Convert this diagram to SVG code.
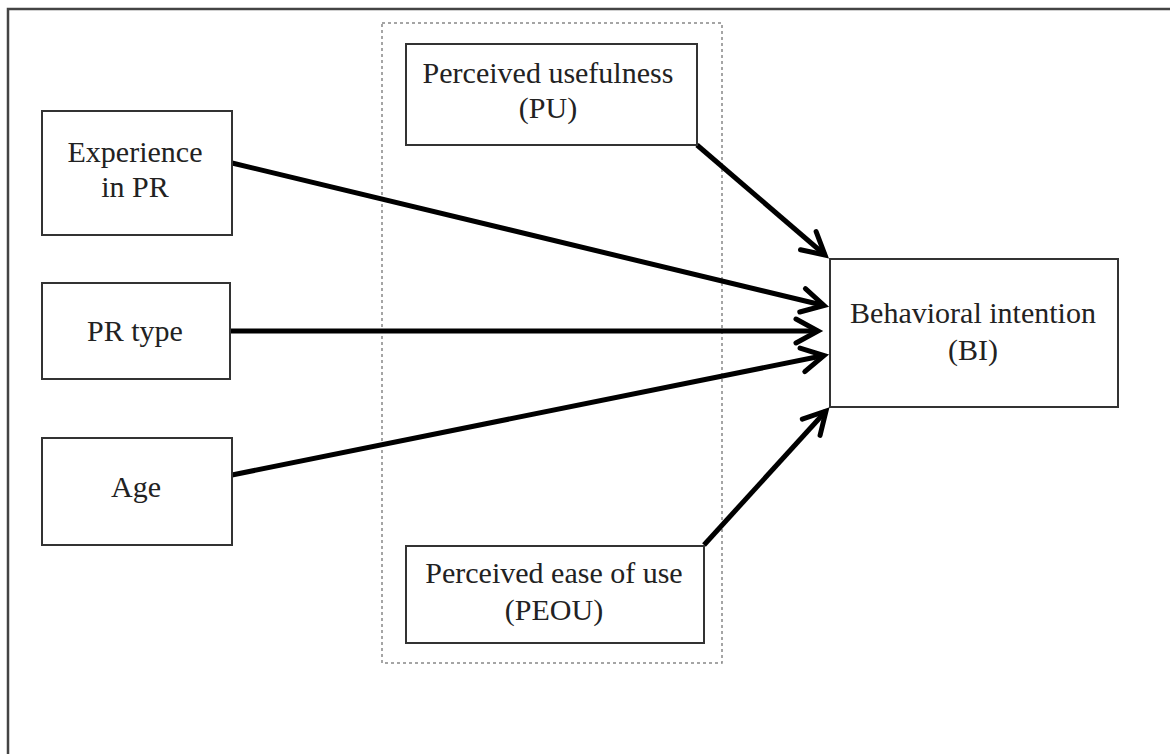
<svg xmlns="http://www.w3.org/2000/svg" width="1170" height="754" viewBox="0 0 1170 754">
<style>
.box{fill:#fff;stroke:#333;stroke-width:2}
.lbl{font-family:"Liberation Serif","Times New Roman",serif;font-size:30px;fill:#222;text-anchor:middle}
.edge{stroke:#000;stroke-width:5;fill:none;marker-end:url(#arr)}
</style>
<defs>
<marker id="arr" markerUnits="userSpaceOnUse" viewBox="-30 -16 36 32" refX="0" refY="0" markerWidth="36" markerHeight="32" orient="auto" overflow="visible">
<path d="M-22,-12 L0,0 L-22,12" fill="none" stroke="#000" stroke-width="5" stroke-linejoin="miter" stroke-linecap="round"/>
</marker>
</defs>
<rect width="1170" height="754" fill="#fff"/>
<g id="frame">
<path d="M8,754 L8,9 L1170,9" fill="none" stroke="#444" stroke-width="2.5"/>
</g>
<g id="group-tam">
<rect x="382" y="23" width="340" height="640" fill="none" stroke="#888" stroke-width="1.5" stroke-dasharray="3,3"/>
</g>
<g id="connectors">
<line class="edge" x1="232" y1="163" x2="824" y2="305.5"/>
<line class="edge" x1="230" y1="331" x2="818" y2="331"/>
<line class="edge" x1="232" y1="475" x2="824" y2="355.5"/>
<line class="edge" x1="697" y1="145" x2="825" y2="255"/>
<line class="edge" x1="704" y1="545" x2="826" y2="411"/>
</g>
<g id="node-experience">
<rect class="box" x="42" y="111" width="190" height="124"/>
<text class="lbl" x="135" y="162">Experience</text>
<text class="lbl" x="135" y="197">in PR</text>
</g>
<g id="node-prtype">
<rect class="box" x="42" y="283" width="188" height="96"/>
<text class="lbl" x="135" y="341">PR type</text>
</g>
<g id="node-age">
<rect class="box" x="42" y="438" width="190" height="107"/>
<text class="lbl" x="136" y="497">Age</text>
</g>
<g id="node-pu">
<rect class="box" x="406" y="44" width="291" height="101"/>
<text class="lbl" x="548" y="83">Perceived usefulness</text>
<text class="lbl" x="548" y="118">(PU)</text>
</g>
<g id="node-peou">
<rect class="box" x="406" y="546" width="298" height="97"/>
<text class="lbl" x="554" y="583">Perceived ease of use</text>
<text class="lbl" x="554" y="620">(PEOU)</text>
</g>
<g id="node-bi">
<rect class="box" x="830" y="259" width="288" height="148"/>
<text class="lbl" x="973" y="323">Behavioral intention</text>
<text class="lbl" x="973" y="360">(BI)</text>
</g>
</svg>
